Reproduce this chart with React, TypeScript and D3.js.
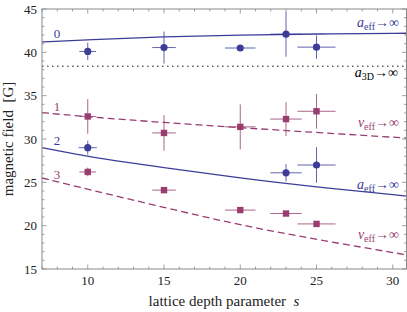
import React from "react";
import * as d3 from "d3";

// measured points (lattice depth s, field in G, error bars)
const sPoints = [10, 15, 20, 23, 25];
const branch0 = [40.1, 40.55, 40.5, 42.1, 40.6];
const branch0Err = [1.0, 1.85, 0.35, 2.6, 1.35];
const branch1 = [32.6, 30.7, 31.4, 32.3, 33.2];
const branch1Err = [2.0, 2.05, 2.6, 1.95, 2.0];
const branch2S = [10, 23, 25];
const branch2 = [29.0, 26.1, 27.0];
const branch2Err = [0.8, 1.0, 2.05];
const branch2SErr = [0.6, 1.03, 1.25];
const branch3 = [26.2, 24.1, 21.8, 21.4, 20.2];
const branch3Err = [0.5, 0.2, 0.2, 0.2, 0.2];
const sErr = [0.55, 0.77, 1.0, 1.03, 1.25];

// theory curves
const curveS = [7, 10, 15, 20, 25, 31];
const curve0 = [41.2, 41.45, 41.8, 42.0, 42.12, 42.2];
const curve1 = [33.05, 32.55, 31.9, 31.3, 30.75, 30.1];
const curve2 = [29.0, 27.95, 26.7, 25.48, 24.45, 23.4];
const curve3 = [25.5, 24.2, 22.1, 20.05, 18.4, 16.6];
const a3dLimit = 38.4;

const xTicks = [10, 15, 20, 25, 30];
const yTicks = [15, 20, 25, 30, 35, 40, 45];

const BLUE = "#3d3d99";
const PURPLE = "#993d71";
const FRAME = "#888";
const FONT = "'Liberation Serif', 'Times New Roman', serif";

const left = 42, right = 406.5, top = 9, bottom = 269;

const x = d3.scaleLinear().domain([7, 30.9]).range([left, right]);
const y = d3.scaleLinear().domain([15, 45]).range([bottom, top]);

const line = d3
  .line<number>()
  .x((d, i) => x(curveS[i]))
  .y((d) => y(d))
  .curve(d3.curveBasis);

function ErrorBars(props: { s: number[]; v: number[]; ve: number[]; se: number[]; color: string }) {
  const { s, v, ve, se, color } = props;
  return (
    <g stroke={color} strokeWidth={1} opacity={0.8}>
      {s.map((sv, i) => (
        <g key={i}>
          <line x1={x(sv)} x2={x(sv)} y1={y(v[i] - ve[i])} y2={y(v[i] + ve[i])} />
          <line x1={x(sv - se[i])} x2={x(sv + se[i])} y1={y(v[i])} y2={y(v[i])} />
        </g>
      ))}
    </g>
  );
}

function Limit(props: { sym: string; sub: string; xPos: number; yPos: number; color: string }) {
  return (
    <text x={props.xPos} y={props.yPos} fill={props.color} fontSize={14} textAnchor="end" fontFamily={FONT}>
      <tspan fontStyle="italic">{props.sym}</tspan>
      <tspan fontSize={10} dy={3}>{props.sub}</tspan>
      <tspan dy={-3}>→∞</tspan>
    </text>
  );
}

export default function App() {
  const minorX = d3.range(7, 31, 1);
  const minorY = d3.range(15, 46, 1);

  return (
    <div style={{ position: "fixed", left: 0, top: 0 }}>
      <svg width={407} height={312} style={{ display: "block", background: "#fff" }}>
        {/* theory curves */}
        <path d={line(curve0) || ""} fill="none" stroke={BLUE} strokeWidth={1.3} />
        <path d={line(curve2) || ""} fill="none" stroke={BLUE} strokeWidth={1.3} />
        <path d={line(curve1) || ""} fill="none" stroke={PURPLE} strokeWidth={1.3} strokeDasharray="7,4" />
        <path d={line(curve3) || ""} fill="none" stroke={PURPLE} strokeWidth={1.3} strokeDasharray="7,4" />
        <line x1={left} x2={right} y1={y(a3dLimit)} y2={y(a3dLimit)} stroke="#222" strokeWidth={1} strokeDasharray="1.6,3.4" />

        {/* error bars */}
        <ErrorBars s={sPoints} v={branch0} ve={branch0Err} se={sErr} color={BLUE} />
        <ErrorBars s={sPoints} v={branch1} ve={branch1Err} se={sErr} color={PURPLE} />
        <ErrorBars s={branch2S} v={branch2} ve={branch2Err} se={branch2SErr} color={BLUE} />
        <ErrorBars s={sPoints} v={branch3} ve={branch3Err} se={sErr} color={PURPLE} />

        {/* markers */}
        {sPoints.map((s, i) => (
          <circle key={"c0" + i} cx={x(s)} cy={y(branch0[i])} r={3.6} fill={BLUE} />
        ))}
        {branch2S.map((s, i) => (
          <circle key={"c2" + i} cx={x(s)} cy={y(branch2[i])} r={3.6} fill={BLUE} />
        ))}
        {sPoints.map((s, i) => (
          <rect key={"r1" + i} x={x(s) - 3.2} y={y(branch1[i]) - 3.2} width={6.4} height={6.4} fill={PURPLE} />
        ))}
        {sPoints.map((s, i) => (
          <rect key={"r3" + i} x={x(s) - 3.2} y={y(branch3[i]) - 3.2} width={6.4} height={6.4} fill={PURPLE} />
        ))}

        {/* curve labels */}
        <g fontFamily={FONT} fontSize={13}>
          <text x={57} y={38} fill={BLUE} textAnchor="middle">0</text>
          <text x={57} y={111} fill={PURPLE} textAnchor="middle">1</text>
          <text x={57} y={145} fill={BLUE} textAnchor="middle">2</text>
          <text x={57} y={179} fill={PURPLE} textAnchor="middle">3</text>
        </g>
        <Limit sym="a" sub="eff" xPos={399} yPos={27} color={BLUE} />
        <Limit sym="a" sub="3D" xPos={398} yPos={77} color="#000" />
        <Limit sym="v" sub="eff" xPos={399} yPos={127} color={PURPLE} />
        <Limit sym="a" sub="eff" xPos={399} yPos={189} color={BLUE} />
        <Limit sym="v" sub="eff" xPos={399} yPos={239} color={PURPLE} />

        {/* frame and ticks */}
        <rect x={left} y={top} width={right - left} height={bottom - top} fill="none" stroke={FRAME} strokeWidth={1} />
        <g stroke={FRAME} strokeWidth={0.8}>
          {minorX.map((s) => {
            const len = s % 5 === 0 ? 4.5 : 2.5;
            return (
              <g key={"tx" + s}>
                <line x1={x(s)} x2={x(s)} y1={bottom} y2={bottom - len} />
                <line x1={x(s)} x2={x(s)} y1={top} y2={top + len} />
              </g>
            );
          })}
          {minorY.map((v) => {
            const len = v % 5 === 0 ? 4.5 : 2.5;
            return (
              <g key={"ty" + v}>
                <line x1={left} x2={left + len} y1={y(v)} y2={y(v)} />
                <line x1={right} x2={right - len} y1={y(v)} y2={y(v)} />
              </g>
            );
          })}
        </g>
        <g fontFamily={FONT} fontSize={13} fill="#222">
          {xTicks.map((t) => (
            <text key={"lx" + t} x={x(t)} y={285} textAnchor="middle">{t}</text>
          ))}
          {yTicks.map((t) => (
            <text key={"ly" + t} x={37} y={y(t) + 4.5} textAnchor="end">{t}</text>
          ))}
        </g>

        {/* axis titles */}
        <text x={224} y={306} textAnchor="middle" fontFamily={FONT} fontSize={15} fill="#222">
          lattice depth parameter{"\u00a0\u00a0"}<tspan fontStyle="italic">s</tspan>
        </text>
        <text
          transform={`translate(13,${(top + bottom) / 2}) rotate(-90)`}
          textAnchor="middle"
          fontFamily={FONT}
          fontSize={15}
          fill="#222"
        >
          magnetic field{"\u00a0\u00a0"}[G]
        </text>
      </svg>
    </div>
  );
}
